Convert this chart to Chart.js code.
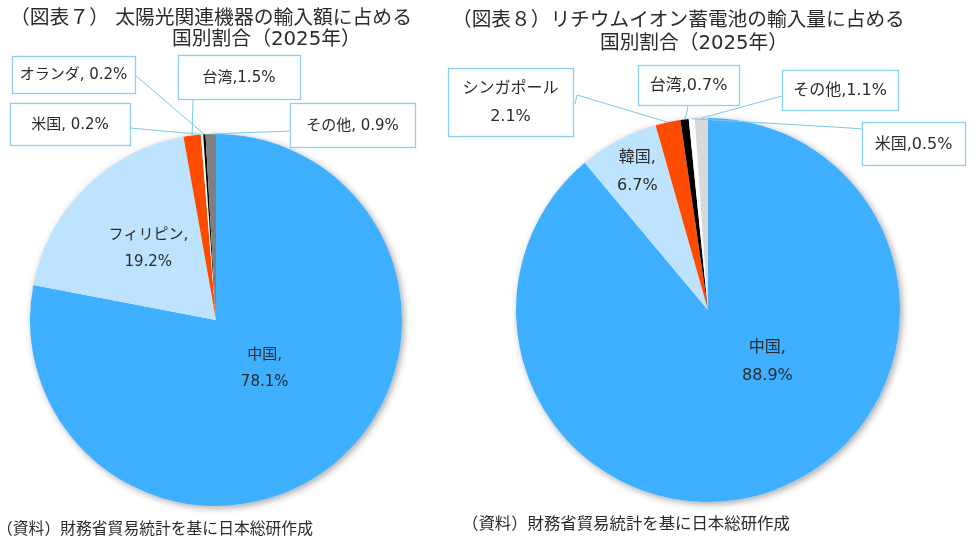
<!DOCTYPE html>
<html lang="ja">
<head>
<meta charset="utf-8">
<script src="https://cdn.jsdelivr.net/npm/chart.js@4/dist/chart.umd.min.js"></script>
<style>
  html, body { margin: 0; padding: 0; background: #fff; }
  #wrap { position: relative; width: 974px; height: 540px; overflow: hidden;
          font-family: "DejaVu Sans", "Noto Sans CJK JP", sans-serif; color: #2b2b2b; }
  #wrap canvas { position: absolute; left: 0; top: 0; }
  .t { position: absolute; white-space: pre; line-height: 1; }
</style>
</head>
<body>
<div id="wrap">
  <canvas id="pie7" width="974" height="540"></canvas>
  <canvas id="pie8" width="974" height="540"></canvas>
  <div class="t" style="left:10px;top:8px;font-size:19.8px">（図表７） 太陽光関連機器の輸入額に占める</div>
  <div class="t" style="left:172px;top:29px;font-size:19.8px">国別割合（2025年）</div>
  <div class="t" style="left:452px;top:10px;font-size:19.7px">（図表８）リチウムイオン蓄電池の輸入量に占める</div>
  <div class="t" style="left:600px;top:33px;font-size:19.7px">国別割合（2025年）</div>
  <div class="t" style="left:-3px;top:521px;font-size:15.8px">（資料）財務省貿易統計を基に日本総研作成</div>
  <div class="t" style="left:462px;top:516px;font-size:16.4px">（資料）財務省貿易統計を基に日本総研作成</div>
</div>
<script>
// 図表7 太陽光関連機器（輸入額, %）
var solarLabels = ['中国', 'フィリピン', '台湾', '米国', 'オランダ', 'その他'];
var solarShares = [78.1, 19.2, 1.5, 0.2, 0.2, 0.9];

// 図表8 リチウムイオン蓄電池（輸入量, %）
var batteryLabels = ['中国', '韓国', 'シンガポール', '台湾', '米国', 'その他'];
var batteryShares = [88.9, 6.7, 2.1, 0.7, 0.5, 1.1];

// 円の影（円全体を白で塗って影をつける）
var shadowPlugin = {
    id: 'pieShadow',
    beforeDatasetsDraw: function (chart) {
        var arc = chart.getDatasetMeta(0).data[0];
        if (!arc) return;
        var ctx = chart.ctx;
        ctx.save();
        ctx.shadowColor = 'rgba(0,0,0,0.35)';
        ctx.shadowBlur = 7;
        ctx.shadowOffsetX = 2;
        ctx.shadowOffsetY = 2;
        ctx.fillStyle = '#fff';
        ctx.beginPath();
        ctx.arc(arc.x, arc.y, arc.outerRadius, 0, Math.PI * 2);
        ctx.fill();
        ctx.restore();
    }
};

// ラベル（円内のラベルと吹き出し）
var labelPlugin = {
    id: 'sliceLabels',
    afterDatasetsDraw: function (chart, args, opts) {
        var ctx = chart.ctx;
        var meta = chart.getDatasetMeta(0);
        var labels = chart.data.labels;
        var values = chart.data.datasets[0].data;
        ctx.save();
        ctx.textAlign = 'center';
        ctx.textBaseline = 'middle';
        ctx.font = opts.font;

        (opts.inside || []).forEach(function (it) {
            var arc = meta.data[it.index];
            var a = (it.angle - 90) * Math.PI / 180;
            var r = arc.outerRadius * it.dist;
            var cx = arc.x + Math.cos(a) * r;
            var cy = arc.y + Math.sin(a) * r;
            var lines = [labels[it.index] + ',', values[it.index].toFixed(1) + '%'];
            ctx.fillStyle = opts.color;
            lines.forEach(function (s, i) {
                ctx.fillText(s, cx, cy + (i - (lines.length - 1) / 2) * opts.lineGap);
            });
        });

        (opts.callouts || []).forEach(function (it) {
            var arc = meta.data[it.index];
            var mid = (arc.startAngle + arc.endAngle) / 2;
            var ax = arc.x + Math.cos(mid) * arc.outerRadius;
            var ay = arc.y + Math.sin(mid) * arc.outerRadius;
            ctx.strokeStyle = opts.lineColor;
            ctx.lineWidth = 1;
            ctx.beginPath();
            ctx.moveTo(it.path[0][0], it.path[0][1]);
            for (var p = 1; p < it.path.length; p++) ctx.lineTo(it.path[p][0], it.path[p][1]);
            ctx.lineTo(ax, ay);
            ctx.stroke();

            var bx = it.box[0], by = it.box[1], bw = it.box[2], bh = it.box[3];
            ctx.fillStyle = '#fff';
            ctx.fillRect(bx, by, bw, bh);
            ctx.strokeStyle = opts.boxColor;
            ctx.lineWidth = 1.3;
            ctx.strokeRect(bx + 0.5, by + 0.5, bw, bh);

            var name = labels[it.index];
            var val = values[it.index].toFixed(1) + '%';
            var lines;
            if (it.fmt === 'two') lines = [name, val];
            else if (it.fmt === 'sp') lines = [name + ', ' + val];
            else lines = [name + ',' + val];
            ctx.fillStyle = opts.color;
            lines.forEach(function (s, i) {
                ctx.fillText(s, bx + bw / 2, by + bh / 2 + 1 + (i - (lines.length - 1) / 2) * opts.lineGap);
            });
        });
        ctx.restore();
    }
};

function makePie(id, labels, values, colors, padding, labelOpts) {
    var ctx = document.getElementById(id).getContext('2d');
    return new Chart(ctx, {
        type: 'pie',
        data: {
            labels: labels,
            datasets: [{
                data: values,
                backgroundColor: colors,
                borderWidth: 0
            }]
        },
        options: {
            responsive: false,
            animation: false,
            events: [],
            layout: { padding: padding },
            plugins: {
                legend: { display: false },
                tooltip: { enabled: false },
                sliceLabels: labelOpts
            }
        },
        plugins: [shadowPlugin, labelPlugin]
    });
}

var fontFamily = '"DejaVu Sans", "Noto Sans CJK JP", sans-serif';

makePie('pie7', solarLabels, solarShares,
    ['#3FAFFF', '#BEE3FF', '#FF4B00', '#FFFFFF', '#000000', '#7F7F7F'],
    { left: 30, right: 572, top: 134, bottom: 34 },
    {
        font: '15px ' + fontFamily,
        color: '#2b2b2b',
        lineGap: 27,
        lineColor: '#7CC8EC',
        boxColor: '#8CD0F0',
        inside: [
            { index: 0, angle: 135, dist: 0.37 },
            { index: 1, angle: 316.6, dist: 0.53 }
        ],
        callouts: [
            { index: 4, fmt: 'sp', box: [12, 56, 123, 37], path: [[135, 75]] },
            { index: 2, fmt: 'ns', box: [178, 55, 122, 44], path: [[193, 99]] },
            { index: 3, fmt: 'sp', box: [10, 103, 120, 42], path: [[130, 128]] },
            { index: 5, fmt: 'sp', box: [290, 103, 125, 44], path: [[290, 131]] }
        ]
    });

makePie('pie8', batteryLabels, batteryShares,
    ['#3FAFFF', '#BEE3FF', '#FF4B00', '#000000', '#FFFFFF', '#D9D9D9'],
    { left: 516, right: 74, top: 118, bottom: 38 },
    {
        font: '16px ' + fontFamily,
        color: '#2b2b2b',
        lineGap: 28,
        lineColor: '#7CC8EC',
        boxColor: '#8CD0F0',
        inside: [
            { index: 0, angle: 131, dist: 0.41 },
            { index: 1, angle: 333, dist: 0.81 }
        ],
        callouts: [
            { index: 2, fmt: 'two', box: [448, 68, 125, 68], path: [[575, 104], [577, 95]] },
            { index: 3, fmt: 'ns', box: [638, 65, 101, 40], path: [[688, 105], [687, 112]] },
            { index: 5, fmt: 'ns', box: [782, 70, 116, 40], path: [[782, 96]] },
            { index: 4, fmt: 'ns', box: [862, 122, 103, 43], path: [[862, 129], [850, 128]] }
        ]
    });
</script>
</body>
</html>
